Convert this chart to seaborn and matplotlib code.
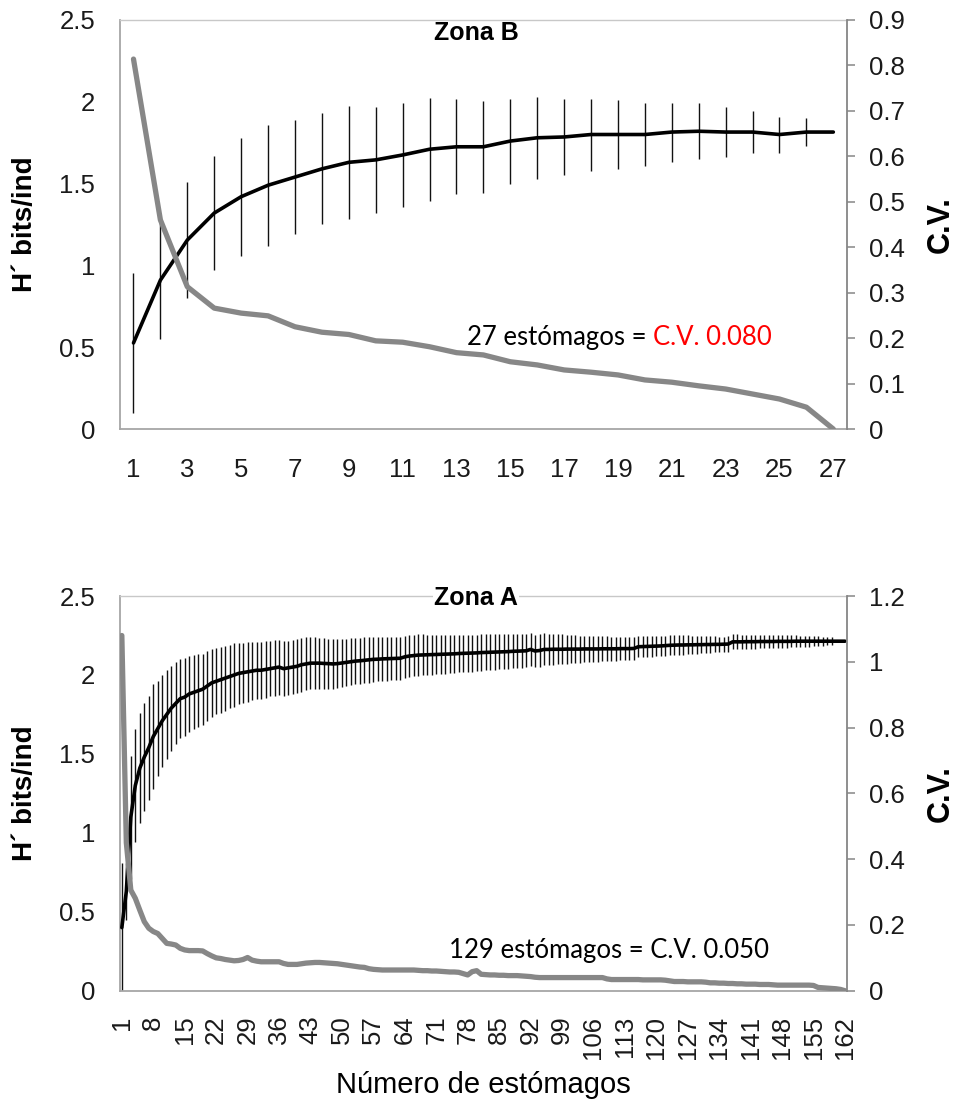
import matplotlib
matplotlib.use("Agg")
import matplotlib.pyplot as plt
import seaborn as sns
import pandas as pd
from matplotlib.ticker import FuncFormatter, FixedLocator, MultipleLocator

# ---------------- Zona B (top panel) ----------------
n_B = list(range(1, 28))
h_B = [0.526, 0.91, 1.155, 1.32, 1.42, 1.49, 1.54, 1.59, 1.63, 1.645,
       1.675, 1.71, 1.725, 1.725, 1.76, 1.78, 1.785, 1.80, 1.80, 1.80,
       1.815, 1.82, 1.815, 1.815, 1.80, 1.815, 1.815]
err_B = [0.43, 0.36, 0.355, 0.35, 0.36, 0.37, 0.35, 0.34, 0.345, 0.325,
         0.32, 0.315, 0.29, 0.28, 0.26, 0.25, 0.235, 0.22, 0.21, 0.19,
         0.18, 0.17, 0.153, 0.13, 0.11, 0.083, 0.0]
cv_B = [0.814, 0.46, 0.313, 0.266, 0.255, 0.249, 0.225, 0.213, 0.208, 0.194,
        0.191, 0.181, 0.168, 0.163, 0.148, 0.141, 0.130, 0.125, 0.119, 0.108,
        0.103, 0.095, 0.088, 0.077, 0.066, 0.048, 0.0]
xticks_B = list(range(1, 28, 2))

# ---------------- Zona A (bottom panel) ----------------
n_A = list(range(1, 163))
h_A = [0.40, 0.63, 1.10, 1.30, 1.41, 1.48, 1.54, 1.61, 1.66, 1.71,
       1.75, 1.79, 1.82, 1.85, 1.86, 1.88, 1.89, 1.90, 1.91, 1.93,
       1.95, 1.96, 1.97, 1.98, 1.99, 2.00, 2.01, 2.015, 2.02, 2.025,
       2.03, 2.03, 2.035, 2.04, 2.045, 2.05, 2.04, 2.045, 2.05, 2.055,
       2.065, 2.07, 2.075, 2.075, 2.075, 2.073, 2.072, 2.07, 2.072, 2.076,
       2.08, 2.084, 2.088, 2.09, 2.093, 2.096, 2.099, 2.10, 2.102, 2.103,
       2.104, 2.105, 2.106, 2.115, 2.12, 2.123, 2.126, 2.127, 2.128, 2.129,
       2.13, 2.131, 2.132, 2.133, 2.134, 2.136, 2.137, 2.138, 2.139, 2.14,
       2.142, 2.143, 2.144, 2.145, 2.146, 2.147, 2.148, 2.15, 2.151, 2.152,
       2.153, 2.162, 2.152, 2.155, 2.162, 2.162, 2.163, 2.163, 2.163, 2.164,
       2.164, 2.164, 2.164, 2.165, 2.165, 2.165, 2.165, 2.166, 2.166, 2.166,
       2.166, 2.167, 2.167, 2.167, 2.168, 2.179, 2.18, 2.181, 2.182, 2.183,
       2.184, 2.186, 2.188, 2.189, 2.19, 2.19, 2.191, 2.191, 2.192, 2.192,
       2.193, 2.193, 2.194, 2.194, 2.195, 2.196, 2.21, 2.21, 2.21, 2.211,
       2.211, 2.211, 2.212, 2.212, 2.212, 2.212, 2.213, 2.213, 2.213, 2.213,
       2.214, 2.214, 2.214, 2.214, 2.214, 2.214, 2.214, 2.214, 2.214, 2.214,
       2.214, 2.214]
err_A = [0.41, 0.18, 0.39, 0.36, 0.35, 0.34, 0.33, 0.33, 0.30, 0.29,
         0.28, 0.27, 0.26, 0.25, 0.245, 0.24, 0.235, 0.23, 0.225, 0.22,
         0.215, 0.21, 0.21, 0.205, 0.20, 0.20, 0.195, 0.19, 0.19, 0.185,
         0.18, 0.18, 0.178, 0.176, 0.175, 0.174, 0.173, 0.172, 0.171, 0.17,
         0.17, 0.168, 0.166, 0.164, 0.162, 0.16, 0.158, 0.156, 0.154, 0.152,
         0.15, 0.149, 0.148, 0.147, 0.146, 0.144, 0.142, 0.14, 0.139, 0.138,
         0.137, 0.136, 0.135, 0.134, 0.133, 0.132, 0.131, 0.13, 0.128, 0.126,
         0.125, 0.124, 0.123, 0.122, 0.121, 0.12, 0.119, 0.118, 0.117, 0.116,
         0.115, 0.114, 0.113, 0.112, 0.111, 0.11, 0.109, 0.108, 0.107, 0.106,
         0.105, 0.104, 0.103, 0.102, 0.101, 0.1, 0.098, 0.096, 0.094, 0.092,
         0.09, 0.088, 0.086, 0.085, 0.084, 0.083, 0.082, 0.08, 0.078, 0.077,
         0.076, 0.075, 0.074, 0.072, 0.07, 0.068, 0.067, 0.066, 0.066, 0.065,
         0.065, 0.064, 0.064, 0.063, 0.062, 0.061, 0.06, 0.058, 0.056, 0.055,
         0.054, 0.052, 0.05, 0.049, 0.048, 0.048, 0.048, 0.047, 0.046, 0.045,
         0.044, 0.044, 0.043, 0.043, 0.042, 0.042, 0.041, 0.04, 0.039, 0.038,
         0.037, 0.036, 0.035, 0.034, 0.032, 0.03, 0.028, 0.026, 0.024, 0.0,
         0.0, 0.0]
cv_A = [1.08, 0.45, 0.306, 0.281, 0.245, 0.21, 0.19, 0.18, 0.174, 0.159,
        0.144, 0.142, 0.139, 0.129, 0.124, 0.122, 0.122, 0.122, 0.121, 0.113,
        0.106, 0.100, 0.098, 0.095, 0.093, 0.091, 0.092, 0.095, 0.101, 0.093,
        0.090, 0.088, 0.088, 0.088, 0.088, 0.088, 0.083, 0.080, 0.080, 0.080,
        0.082, 0.084, 0.085, 0.086, 0.086, 0.085, 0.084, 0.083, 0.082, 0.080,
        0.078, 0.076, 0.074, 0.072, 0.071, 0.067, 0.065, 0.064, 0.063, 0.063,
        0.063, 0.063, 0.063, 0.063, 0.063, 0.063, 0.062, 0.061, 0.061, 0.060,
        0.060, 0.059, 0.058, 0.057, 0.057, 0.056, 0.052, 0.048, 0.058, 0.061,
        0.050, 0.049, 0.048, 0.048, 0.047, 0.047, 0.046, 0.046, 0.046, 0.045,
        0.044, 0.043, 0.041, 0.040, 0.040, 0.040, 0.040, 0.040, 0.040, 0.040,
        0.040, 0.040, 0.040, 0.040, 0.040, 0.040, 0.040, 0.040, 0.036, 0.034,
        0.034, 0.034, 0.034, 0.034, 0.034, 0.034, 0.033, 0.033, 0.033, 0.033,
        0.033, 0.032, 0.030, 0.028, 0.028, 0.028, 0.027, 0.027, 0.027, 0.027,
        0.026, 0.024, 0.024, 0.023, 0.023, 0.022, 0.022, 0.021, 0.021, 0.020,
        0.020, 0.020, 0.019, 0.019, 0.019, 0.018, 0.017, 0.017, 0.017, 0.017,
        0.017, 0.017, 0.017, 0.017, 0.016, 0.010, 0.009, 0.008, 0.007, 0.006,
        0.004, 0.0]
xticks_A = list(range(1, 163, 7))

# ---------------- style ----------------
sns.set_theme(style="white")
plt.rcParams['font.family'] = ['Liberation Sans', 'DejaVu Sans']

TICK_FS = 18.5
SPINE = '#a6a6a6'
RSPINE = '#868686'
TXT = '#1a1a1a'

fmt = FuncFormatter(lambda v, p: '%g' % round(v, 3))

fig = plt.figure(figsize=(9.58, 11.04), dpi=100)
axB = fig.add_axes([0.1253, 0.6114, 0.7586, 0.3705])
axA = fig.add_axes([0.1253, 0.1026, 0.7586, 0.3575])


def panel(ax, n, h, err, cv, cvmax, cvstep, xticks, xlim, rot, xpad):
    df = pd.DataFrame({'n': n, 'H': h, 'err': err, 'CV': cv})
    ax.errorbar(df['n'], df['H'], yerr=df['err'], fmt='none',
                ecolor='#111111', elinewidth=1.0, capsize=0, zorder=2)
    sns.lineplot(data=df, x='n', y='H', ax=ax, color='black', lw=2.6,
                 zorder=3)
    ax.set_xlim(*xlim)
    ax.set_ylim(0, 2.5)
    ax.yaxis.set_major_locator(MultipleLocator(0.5))
    ax.yaxis.set_major_formatter(fmt)
    ax.xaxis.set_major_locator(FixedLocator(xticks))
    ax.tick_params(axis='y', left=False, length=0, pad=18,
                   labelsize=TICK_FS, labelcolor=TXT)
    ax.tick_params(axis='x', bottom=False, length=0, pad=xpad,
                   labelsize=TICK_FS, labelcolor=TXT, labelrotation=rot)
    ax.set_xlabel('')
    ax.set_ylabel('H´ bits/ind', fontsize=20, fontweight='bold',
                  color='black')
    ax.yaxis.set_label_coords(-0.113, 0.5)
    for s in ['left', 'bottom']:
        ax.spines[s].set_color(SPINE)
        ax.spines[s].set_linewidth(1.3)
    ax.spines['top'].set_color('#c8c8c8')
    ax.spines['top'].set_linewidth(1.0)
    ax.spines['right'].set_visible(False)

    axr = ax.twinx()
    sns.lineplot(data=df, x='n', y='CV', ax=axr, color='#878787', lw=3.8,
                 zorder=4)
    axr.set_ylim(0, cvmax)
    axr.yaxis.set_major_locator(MultipleLocator(cvstep))
    axr.yaxis.set_major_formatter(fmt)
    axr.tick_params(axis='y', right=True, direction='out', length=6,
                    width=1.1, color=RSPINE, pad=10, labelsize=TICK_FS,
                    labelcolor=TXT)
    for s in ['left', 'bottom', 'top']:
        axr.spines[s].set_visible(False)
    axr.spines['right'].set_color(RSPINE)
    axr.spines['right'].set_linewidth(1.3)
    axr.set_ylabel('C.V.', fontsize=22, fontweight='bold', color='black')
    axr.yaxis.set_label_coords(1.108, 0.5)
    return axr


axBr = panel(axB, n_B, h_B, err_B, cv_B, 0.9, 0.1, xticks_B,
             (0.5, 27.5), 0, 21)
axAr = panel(axA, n_A, h_A, err_A, cv_A, 1.2, 0.2, xticks_A,
             (0.6, 162.4), 90, 18)

# titles inside the panels
axB.text(0.49, 0.968, 'Zona B', transform=axB.transAxes, ha='center',
         va='center', fontsize=18, fontweight='bold', color='black',
         zorder=6)
axAr.text(0.49, 0.995, 'Zona A', transform=axA.transAxes, ha='center',
          va='center', fontsize=18, fontweight='bold', color='black',
          zorder=6, bbox=dict(facecolor='white', edgecolor='none', pad=0.5))

# annotations
ANN_FONT = ['Lato', 'DejaVu Sans']
t1 = axBr.text(0.4775, 0.205, '27 estómagos = ', transform=axB.transAxes,
               ha='left', va='baseline', fontsize=18.5, family=ANN_FONT,
               color='black')
axBr.annotate('C.V. 0.080', xy=(1, 0), xycoords=t1, ha='left',
              va='bottom', fontsize=18.5, family=ANN_FONT, color='#ff0000')
axAr.text(0.4527, 0.103, '129 estómagos = C.V. 0.050',
          transform=axA.transAxes, ha='left', va='center', fontsize=18.5,
          family=ANN_FONT, color='black')

axA.set_xlabel('Número de estómagos', fontsize=21, color='black')
axA.xaxis.set_label_coords(0.5, -0.2035)

fig.savefig('out.png', dpi=100, facecolor='white')
